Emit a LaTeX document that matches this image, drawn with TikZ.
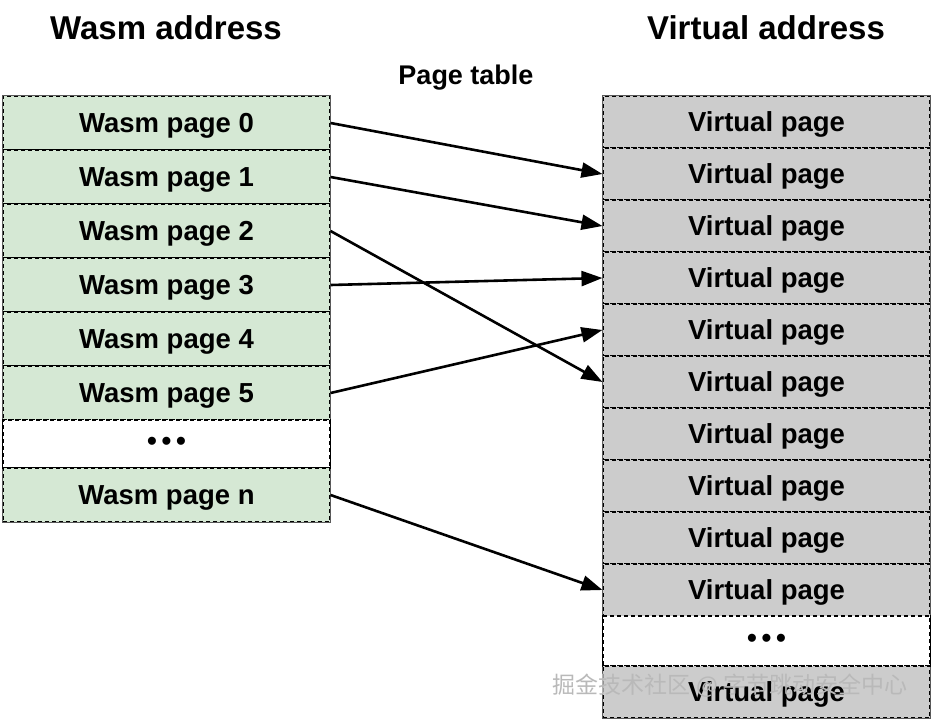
\documentclass[tikz,border=0pt]{standalone}
\usepackage{fontspec}
\setmainfont{Liberation Sans}
\newfontfamily\cjkfont{Noto Sans CJK SC}
\usepackage{tikz}
\usetikzlibrary{arrows.meta}
\definecolor{WasmGreen}{RGB}{213,232,212}
\definecolor{VirtGray}{RGB}{204,204,204}
\definecolor{FrameGray}{RGB}{90,90,90}

\tikzset{
  page/.style={draw=black, line width=1.1pt, dash pattern=on 4pt off 3pt,
    minimum width=327pt, inner sep=0pt, text depth=0pt,
    font=\fontsize{27.5}{30}\selectfont\bfseries},
  wasmpage/.style={page, fill=WasmGreen, minimum height=54pt},
  virtpage/.style={page, fill=VirtGray, minimum height=52pt},
  gappage/.style={page, fill=white},
  title/.style={font=\fontsize{33}{36}\selectfont\bfseries},
  pagemap/.style={draw=black, solid, line width=2.6pt, -{Triangle[length=21pt,width=15pt]}}
}

\begin{document}
\begin{tikzpicture}[x=1pt,y=-1pt]
      \useasboundingbox (0,0) rectangle (933,720);

      \node[title] (wtitle) at (166,28) {Wasm address};
      \node[title] (vtitle) at (766,28) {Virtual address};
      \node[font=\fontsize{27}{30}\selectfont\bfseries] (ptable) at (466,78) {Page table};

      % wasm pages
      \node[wasmpage] (w0) at (166.5,123) {Wasm page 0};
      \node[wasmpage] (w1) at (166.5,177) {Wasm page 1};
      \node[wasmpage] (w2) at (166.5,231) {Wasm page 2};
      \node[wasmpage] (w3) at (166.5,285) {Wasm page 3};
      \node[wasmpage] (w4) at (166.5,339) {Wasm page 4};
      \node[wasmpage] (w5) at (166.5,393) {Wasm page 5};
      \node[gappage, minimum height=48pt] (wgap) at (166.5,444) {\fontsize{28}{30}\selectfont •\,•\,•};
      \node[wasmpage] (wn) at (166.5,495) {Wasm page n};
      \draw[FrameGray, line width=0.8pt] (w0.north west) rectangle (wn.south east);
      \draw[black, line width=1.6pt] (wgap.north west) -- (wgap.south west)
        (wgap.north east) -- (wgap.south east);

      % virtual pages
      \node[virtpage] (v0) at (766.5,122) {Virtual page};
      \node[virtpage] (v1) at (766.5,174) {Virtual page};
      \node[virtpage] (v2) at (766.5,226) {Virtual page};
      \node[virtpage] (v3) at (766.5,278) {Virtual page};
      \node[virtpage] (v4) at (766.5,330) {Virtual page};
      \node[virtpage] (v5) at (766.5,382) {Virtual page};
      \node[virtpage] (v6) at (766.5,434) {Virtual page};
      \node[virtpage] (v7) at (766.5,486) {Virtual page};
      \node[virtpage] (v8) at (766.5,538) {Virtual page};
      \node[virtpage] (v9) at (766.5,590) {Virtual page};
      \node[gappage, minimum height=50pt] (vgap) at (766.5,641) {\fontsize{28}{30}\selectfont •\,•\,•};
      \node[virtpage] (vn) at (766.5,692) {Virtual page};
      \draw[FrameGray, line width=0.8pt] (v0.north west) rectangle (vn.south east);
      \draw[black, line width=1.6pt] (vgap.north west) -- (vgap.south west)
        (vgap.north east) -- (vgap.south east);

      % page table mapping
      \draw[pagemap] (w0.east) -- (v1.west);
      \draw[pagemap] (w1.east) -- (v2.west);
      \draw[pagemap] (w2.east) -- (v5.west);
      \draw[pagemap] (w3.east) -- (v3.west);
      \draw[pagemap] (w5.east) -- (v4.west);
      \draw[pagemap] (wn.east) -- (v9.west);

      \node[text=gray!55, font=\fontsize{23}{26}\selectfont\cjkfont] (mark) at (730,686) {掘金技术社区 @ 字节跳动安全中心};
    \end{tikzpicture}
\end{document}
